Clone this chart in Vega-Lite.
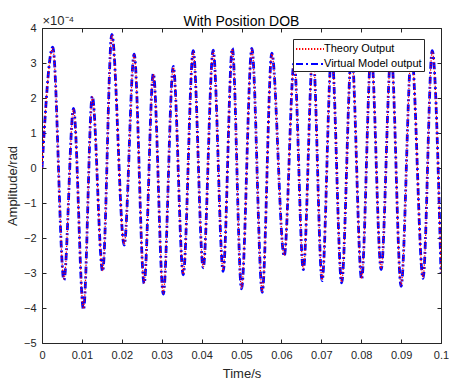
{
  "$schema": "https://vega.github.io/schema/vega-lite/v6.json",
  "width": 399,
  "height": 315,
  "autosize": "none",
  "padding": {"left": 42, "top": 28, "right": 8, "bottom": 40},
  "background": "white",
  "config": {
    "font": "Liberation Sans",
    "view": {"stroke": "#262626", "strokeWidth": 1},
    "axis": {
      "grid": false,
      "domain": false,
      "ticks": true,
      "tickColor": "#262626",
      "tickSize": -4,
      "labelColor": "#262626",
      "labelFont": "Liberation Sans",
      "labelFontSize": 11,
      "titleFont": "Liberation Sans",
      "titleFontSize": 13,
      "titleFontWeight": "normal",
      "titleColor": "#262626"
    },
    "legend": {
      "orient": "none",
      "legendX": 251,
      "legendY": 11,
      "symbolType": "M-2,0H2",
      "symbolSize": 196,
      "symbolStrokeWidth": 2,
      "symbolOffset": 7,
      "fillColor": "white",
      "strokeColor": "#262626",
      "padding": 2,
      "labelFont": "Liberation Sans",
      "labelFontSize": 11,
      "labelColor": "black",
      "rowPadding": 2,
      "labelOffset": 6,
      "cornerRadius": 0
    }
  },
  "title": {
    "text": "With Position DOB",
    "font": "Liberation Sans",
    "fontSize": 14,
    "fontWeight": "normal",
    "color": "black",
    "offset": 4,
    "dy": 19
  },
  "data": {
    "values": [
      {"t": 0, "Theory Output": 0, "Virtual Model output": 0},
      {"t": 0.0027, "Theory Output": 3.42, "Virtual Model output": 3.45},
      {"t": 0.0055, "Theory Output": -3.17, "Virtual Model output": -3.2},
      {"t": 0.0079, "Theory Output": 1.68, "Virtual Model output": 1.7},
      {"t": 0.0104, "Theory Output": -4.02, "Virtual Model output": -4.05},
      {"t": 0.0126, "Theory Output": 2.03, "Virtual Model output": 2.05},
      {"t": 0.0152, "Theory Output": -2.93, "Virtual Model output": -2.95},
      {"t": 0.0175, "Theory Output": 3.8, "Virtual Model output": 3.82},
      {"t": 0.0206, "Theory Output": -2.18, "Virtual Model output": -2.2},
      {"t": 0.0231, "Theory Output": 3.23, "Virtual Model output": 3.25},
      {"t": 0.0256, "Theory Output": -3.28, "Virtual Model output": -3.3},
      {"t": 0.0279, "Theory Output": 2.68, "Virtual Model output": 2.7},
      {"t": 0.0304, "Theory Output": -3.58, "Virtual Model output": -3.6},
      {"t": 0.0329, "Theory Output": 2.88, "Virtual Model output": 2.9},
      {"t": 0.0354, "Theory Output": -3.03, "Virtual Model output": -3.05},
      {"t": 0.0379, "Theory Output": 3.33, "Virtual Model output": 3.35},
      {"t": 0.0404, "Theory Output": -2.83, "Virtual Model output": -2.85},
      {"t": 0.0429, "Theory Output": 3.35, "Virtual Model output": 3.37},
      {"t": 0.0454, "Theory Output": -2.93, "Virtual Model output": -2.95},
      {"t": 0.0477, "Theory Output": 3.4, "Virtual Model output": 3.42},
      {"t": 0.05, "Theory Output": -3.43, "Virtual Model output": -3.45},
      {"t": 0.0526, "Theory Output": 3.4, "Virtual Model output": 3.42},
      {"t": 0.0552, "Theory Output": -3.53, "Virtual Model output": -3.55},
      {"t": 0.0576, "Theory Output": 3.26, "Virtual Model output": 3.28},
      {"t": 0.0607, "Theory Output": -2.5, "Virtual Model output": -2.52},
      {"t": 0.0632, "Theory Output": 3.0, "Virtual Model output": 3.02},
      {"t": 0.0655, "Theory Output": -2.88, "Virtual Model output": -2.9},
      {"t": 0.0679, "Theory Output": 3.28, "Virtual Model output": 3.3},
      {"t": 0.0702, "Theory Output": -3.2, "Virtual Model output": -3.22},
      {"t": 0.0726, "Theory Output": 3.28, "Virtual Model output": 3.3},
      {"t": 0.0751, "Theory Output": -3.26, "Virtual Model output": -3.28},
      {"t": 0.0776, "Theory Output": 3.28, "Virtual Model output": 3.3},
      {"t": 0.0801, "Theory Output": -3.16, "Virtual Model output": -3.18},
      {"t": 0.0825, "Theory Output": 3.28, "Virtual Model output": 3.3},
      {"t": 0.085, "Theory Output": -2.88, "Virtual Model output": -2.9},
      {"t": 0.0875, "Theory Output": 3.28, "Virtual Model output": 3.3},
      {"t": 0.09, "Theory Output": -3.36, "Virtual Model output": -3.38},
      {"t": 0.0926, "Theory Output": 3.28, "Virtual Model output": 3.3},
      {"t": 0.0955, "Theory Output": -3.13, "Virtual Model output": -3.15},
      {"t": 0.0978, "Theory Output": 3.33, "Virtual Model output": 3.35},
      {"t": 0.1, "Theory Output": -2.98, "Virtual Model output": -3.0}
    ]
  },
  "transform": [
    {"fold": ["Theory Output", "Virtual Model output"], "as": ["series", "amp"]}
  ],
  "layer": [
    {
      "transform": [{"filter": "datum.series === 'Virtual Model output'"}],
      "mark": {"type": "line", "interpolate": "monotone", "clip": true, "strokeWidth": 2.8},
      "encoding": {
        "x": {
          "field": "t",
          "type": "quantitative",
          "scale": {"domain": [0, 0.1], "nice": false, "zero": false},
          "axis": {
            "orient": "bottom",
            "title": "Time/s",
            "values": [0, 0.01, 0.02, 0.03, 0.04, 0.05, 0.06, 0.07, 0.08, 0.09, 0.1],
            "format": "~g",
            "labelPadding": 10,
            "titlePadding": 7,
            "labelFlush": false,
            "labelOverlap": false
          }
        },
        "y": {
          "field": "amp",
          "type": "quantitative",
          "scale": {"domain": [-5, 4], "nice": false, "zero": false},
          "axis": {
            "orient": "left",
            "title": "Amplitude/rad",
            "values": [-5, -4, -3, -2, -1, 0, 1, 2, 3, 4],
            "labelPadding": 10,
            "titlePadding": 4,
            "labelFlush": false,
            "labelOverlap": false
          }
        },
        "color": {
          "field": "series",
          "type": "nominal",
          "scale": {"domain": ["Theory Output", "Virtual Model output"], "range": ["#FF0000", "#0000FF"]},
          "legend": {"title": null}
        },
        "strokeDash": {
          "field": "series",
          "type": "nominal",
          "scale": {"domain": ["Theory Output", "Virtual Model output"], "range": [[1.3, 1.7], [7, 3, 2, 3]]},
          "legend": {"title": null}
        }
      }
    },
    {
      "transform": [{"filter": "datum.series === 'Theory Output'"}],
      "mark": {"type": "line", "interpolate": "monotone", "clip": true, "strokeWidth": 1.2},
      "encoding": {
        "x": {
          "field": "t",
          "type": "quantitative",
          "axis": {
            "orient": "top",
            "title": "×10⁻⁴",
            "titleX": 0,
            "titleY": -4,
            "titleAlign": "left",
            "titleAnchor": null,
            "titleBaseline": "alphabetic",
            "titleFontSize": 13,
            "labels": false,
            "values": [0, 0.01, 0.02, 0.03, 0.04, 0.05, 0.06, 0.07, 0.08, 0.09, 0.1]
          }
        },
        "y": {
          "field": "amp",
          "type": "quantitative",
          "axis": {
            "orient": "right",
            "title": null,
            "labels": false,
            "values": [-5, -4, -3, -2, -1, 0, 1, 2, 3, 4]
          }
        },
        "color": {"field": "series", "type": "nominal", "legend": {"title": null}},
        "strokeDash": {"field": "series", "type": "nominal", "legend": {"title": null}}
      }
    }
  ],
  "resolve": {"axis": {"x": "independent", "y": "independent"}}
}
